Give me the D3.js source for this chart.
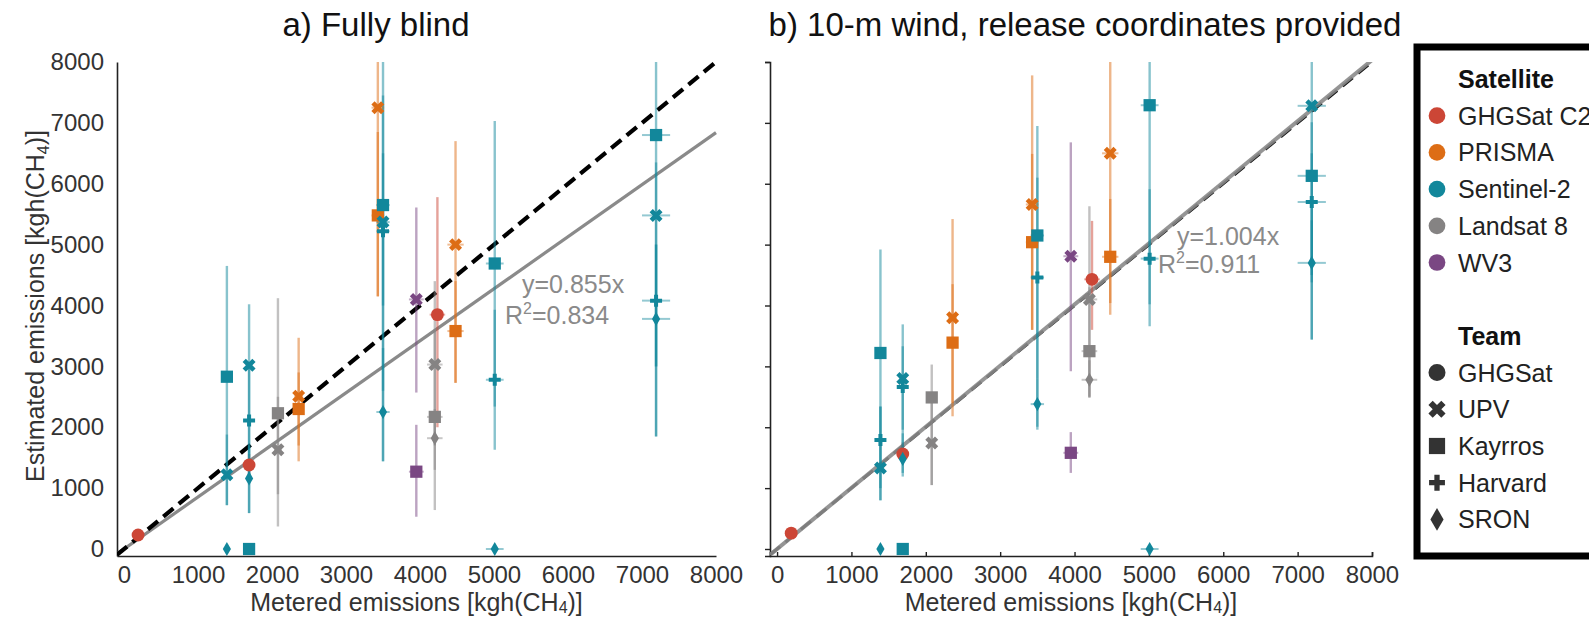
<!DOCTYPE html>
<html><head><meta charset="utf-8">
<script src="https://cdn.jsdelivr.net/npm/d3@7"></script>
<style>
body{margin:0;background:#fff;}
svg{display:block;font-family:"Liberation Sans",Arial,Helvetica,sans-serif;}
</style>
</head><body>
<svg id="chart" width="1589" height="617"></svg>
<script>
// ---------------- data ----------------
const satellites = ["GHGSat C2", "PRISMA", "Sentinel-2", "Landsat 8", "WV3"];
const satColors  = ["#cc4636", "#dd6d15", "#12879b", "#858383", "#7a4783"];
const teams      = ["GHGSat", "UPV", "Kayrros", "Harvard", "SRON"];
const axisTicks  = [0, 1000, 2000, 3000, 4000, 5000, 6000, 7000, 8000];
const panelTitles = ["a) Fully blind", "b) 10-m wind, release coordinates provided"];
const fitSlopes  = [0.855, 1.004];
const fitR2      = ["0.834", "0.911"];
// metered release rates and their uncertainty (kgh)
const releases   = [190, 1390, 1690, 2080, 2360, 3430, 3500, 3950, 4200, 4235, 4480, 5010, 7190];
const releaseErr = [10, 35, 40, 50, 60, 85, 90, 100, 105, 105, 110, 120, 190];
// rows: [satellite, team, metered, estimated, lower, upper]
const panelA = [
  ["GHGSat C2", "GHGSat", 190, 230, null, null],
  ["GHGSat C2", "GHGSat", 1690, 1380, 1200, 1560],
  ["GHGSat C2", "GHGSat", 4235, 3850, 2000, 5780],
  ["PRISMA", "UPV", 2360, 2510, 1440, 3470],
  ["PRISMA", "Kayrros", 2360, 2300, 1700, 2900],
  ["PRISMA", "UPV", 3430, 7250, 4150, 8300],
  ["PRISMA", "Kayrros", 3430, 5480, 4150, 6850],
  ["PRISMA", "UPV", 4480, 5000, 2730, 6700],
  ["PRISMA", "Kayrros", 4480, 3580, 2730, 4400],
  ["Sentinel-2", "Kayrros", 1390, 2830, 720, 4650],
  ["Sentinel-2", "UPV", 1390, 1220, 720, 1880],
  ["Sentinel-2", "SRON", 1390, 0, null, null],
  ["Sentinel-2", "UPV", 1690, 3020, 1200, 4020],
  ["Sentinel-2", "Harvard", 1690, 2110, 590, 3000],
  ["Sentinel-2", "SRON", 1690, 1160, 590, 1700],
  ["Sentinel-2", "Kayrros", 1690, 0, null, null],
  ["Sentinel-2", "Kayrros", 3500, 5650, 1440, 8300],
  ["Sentinel-2", "UPV", 3500, 5370, 2600, 7450],
  ["Sentinel-2", "Harvard", 3500, 5220, 4000, 6500],
  ["Sentinel-2", "SRON", 3500, 2250, 1440, 3300],
  ["Sentinel-2", "Kayrros", 5010, 4690, 1630, 7030],
  ["Sentinel-2", "Harvard", 5010, 2780, 2340, 3930],
  ["Sentinel-2", "SRON", 5010, 0, null, null],
  ["Sentinel-2", "Kayrros", 7190, 6800, 1850, 8300],
  ["Sentinel-2", "UPV", 7190, 5480, 3000, 6350],
  ["Sentinel-2", "Harvard", 7190, 4080, 3000, 5000],
  ["Sentinel-2", "SRON", 7190, 3780, 1850, 5000],
  ["Landsat 8", "Kayrros", 2080, 2230, 370, 4120],
  ["Landsat 8", "UPV", 2080, 1630, 900, 2500],
  ["Landsat 8", "UPV", 4200, 3030, 1700, 4400],
  ["Landsat 8", "Kayrros", 4200, 2170, 640, 3600],
  ["Landsat 8", "SRON", 4200, 1820, 1300, 2300],
  ["WV3", "UPV", 3950, 4100, 2570, 5610],
  ["WV3", "Kayrros", 3950, 1270, 530, 2040]
];
const panelB = [
  ["GHGSat C2", "GHGSat", 190, 260, null, null],
  ["GHGSat C2", "GHGSat", 1690, 1560, 1400, 1750],
  ["GHGSat C2", "GHGSat", 4235, 4430, 3600, 5390],
  ["PRISMA", "UPV", 2360, 3800, 2180, 5420],
  ["PRISMA", "Kayrros", 2360, 3390, 2400, 4350],
  ["PRISMA", "UPV", 3430, 5660, 3600, 7780],
  ["PRISMA", "Kayrros", 3430, 5040, 3600, 6490],
  ["PRISMA", "UPV", 4480, 6500, 3850, 8300],
  ["PRISMA", "Kayrros", 4480, 4800, 4040, 5750],
  ["Sentinel-2", "Kayrros", 1390, 3220, 800, 4920],
  ["Sentinel-2", "Harvard", 1390, 1790, 1000, 2340],
  ["Sentinel-2", "UPV", 1390, 1330, 800, 2340],
  ["Sentinel-2", "SRON", 1390, 0, null, null],
  ["Sentinel-2", "UPV", 1690, 2800, 1190, 3690],
  ["Sentinel-2", "Harvard", 1690, 2660, 1960, 3330],
  ["Sentinel-2", "SRON", 1690, 1480, 1250, 1900],
  ["Sentinel-2", "Kayrros", 1690, 0, null, null],
  ["Sentinel-2", "Kayrros", 3500, 5150, 2010, 6950],
  ["Sentinel-2", "Harvard", 3500, 4460, 2800, 6100],
  ["Sentinel-2", "SRON", 3500, 2380, 1960, 2800],
  ["Sentinel-2", "Kayrros", 5010, 7290, 3660, 8300],
  ["Sentinel-2", "Harvard", 5010, 4770, 4020, 5910],
  ["Sentinel-2", "SRON", 5010, 0, null, null],
  ["Sentinel-2", "UPV", 7190, 7280, 3440, 8300],
  ["Sentinel-2", "Kayrros", 7190, 6130, 4380, 7010],
  ["Sentinel-2", "Harvard", 7190, 5700, 4500, 6500],
  ["Sentinel-2", "SRON", 7190, 4700, 3440, 5400],
  ["Landsat 8", "Kayrros", 2080, 2490, 1050, 3030],
  ["Landsat 8", "UPV", 2080, 1740, 1050, 2400],
  ["Landsat 8", "UPV", 4200, 4100, 2500, 5630],
  ["Landsat 8", "Kayrros", 4200, 3250, 2500, 4300],
  ["Landsat 8", "SRON", 4200, 2780, 2480, 3100],
  ["WV3", "UPV", 3950, 4810, 2920, 6680],
  ["WV3", "Kayrros", 3950, 1580, 1250, 1920]
];

// ---------------- drawing ----------------
const svg = d3.select("#chart");
svg.append("rect").attr("width", 1589).attr("height", 617).attr("fill", "#fff");

const color = d3.scaleOrdinal().domain(satellites).range(satColors);
const errOf = d3.scaleOrdinal().domain(releases).range(releaseErr);
const FONT = 25, TICKFONT = 24;
const TXT = "#333";

function symbolFor(team, big) {
  const s = big ? 1.75 : 1;
  switch (team) {
    case "GHGSat":  return {type: d3.symbolCircle, size: 130 * s, rot: 0};
    case "UPV":     return {type: d3.symbolCross, size: 105 * s, rot: 45};
    case "Kayrros": return {type: d3.symbolSquare, size: 150 * s, rot: 0};
    case "Harvard": return {type: d3.symbolCross, size: 80 * s, rot: 0};
    default:        return {type: d3.symbolDiamond, size: (big ? 150 : 58), rot: 0};
  }
}

const y = d3.scaleLinear().domain([-115, 8000]).range([556, 62]);

function drawPanel(idx, rows, xRange) {
  const x = d3.scaleLinear().domain([-95, 8000]).range(xRange);
  const g = svg.append("g");
  const clipId = "clip" + idx;
  svg.append("clipPath").attr("id", clipId).append("rect")
    .attr("x", xRange[0]).attr("y", y(8000)).attr("width", xRange[1] - xRange[0] + 2)
    .attr("height", y(-115) - y(8000));

  // axes
  const ya = d3.axisLeft(y).tickValues(axisTicks).tickSizeOuter(0);
  if (idx === 0) ya.tickSize(0).tickPadding(13).tickFormat(d3.format("d"));
  else ya.tickSize(5).tickFormat("");
  const yg = g.append("g").attr("transform", `translate(${xRange[0]},0)`).call(ya);
  const xa = d3.axisBottom(x).tickValues(axisTicks).tickSizeOuter(0).tickFormat(d3.format("d"));
  if (idx === 0) xa.tickSize(0).tickPadding(10); else xa.tickSize(-4).tickPadding(10);
  const xg = g.append("g").attr("transform", `translate(0,${y(-115)})`).call(xa);
  [yg, xg].forEach(a => {
    a.attr("font-size", TICKFONT).attr("font-family", null);
    a.selectAll("text").attr("fill", TXT);
    a.select(".domain").attr("stroke", "#222").attr("stroke-width", 1.6);
    a.selectAll(".tick line").attr("stroke", "#222").attr("stroke-width", 1.4);
  });

  const plot = g.append("g").attr("clip-path", `url(#${clipId})`);
  // 1:1 reference (dashed) and fitted line
  const slope = fitSlopes[idx];
  const lineGen = d3.line().x(d => x(d[0])).y(d => y(d[1]));
  const ends = [-95, 8000];
  if (idx === 0) {
    plot.append("path").attr("d", lineGen(ends.map(v => [v, v * slope])))
      .attr("stroke", "#8a8a8a").attr("stroke-width", 3.2).attr("fill", "none");
    plot.append("path").attr("d", lineGen(ends.map(v => [v, v])))
      .attr("stroke", "#000").attr("stroke-width", 4.2).attr("stroke-dasharray", "13,7").attr("fill", "none");
  } else {
    plot.append("path").attr("d", lineGen(ends.map(v => [v, v])))
      .attr("stroke", "#111").attr("stroke-width", 3).attr("stroke-dasharray", "13,7").attr("fill", "none");
    plot.append("path").attr("d", lineGen(ends.map(v => [v, v * slope])))
      .attr("stroke", "#8a8a8a").attr("stroke-opacity", 0.9).attr("stroke-width", 4).attr("fill", "none");
  }

  // error bars
  const bars = rows.filter(r => r[4] !== null);
  plot.selectAll("line.v").data(bars).join("line").attr("class", "v")
    .attr("x1", d => x(d[2])).attr("x2", d => x(d[2]))
    .attr("y1", d => y(d[4])).attr("y2", d => y(d[5]))
    .attr("stroke", d => color(d[0])).attr("stroke-width", 2.4).attr("stroke-opacity", 0.5);
  plot.selectAll("line.h").data(rows).join("line").attr("class", "h")
    .attr("x1", d => x(d[2] - errOf(d[2]))).attr("x2", d => x(d[2] + errOf(d[2])))
    .attr("y1", d => y(d[3])).attr("y2", d => y(d[3]))
    .attr("stroke", d => color(d[0])).attr("stroke-width", 2).attr("stroke-opacity", 0.45);

  // markers
  g.append("g").selectAll("path").data(rows).join("path")
    .attr("d", d => { const s = symbolFor(d[1], false); return d3.symbol(s.type, s.size)(); })
    .attr("transform", d => `translate(${x(d[2])},${y(d[3])}) rotate(${symbolFor(d[1], false).rot})`)
    .attr("fill", d => color(d[0]));

  // fit annotation
  const ann = idx === 0 ? {x1: 522, y1: 293, x2: 505, y2: 324} : {x1: 1177, y1: 245, x2: 1158, y2: 273};
  g.append("text").attr("x", ann.x1).attr("y", ann.y1).attr("font-size", FONT).attr("fill", "#8a8a8a")
    .text(`y=${slope.toFixed(3)}x`);
  const t2 = g.append("text").attr("x", ann.x2).attr("y", ann.y2).attr("font-size", FONT).attr("fill", "#8a8a8a");
  t2.append("tspan").text("R");
  t2.append("tspan").attr("font-size", 16).attr("dy", -10).text("2");
  t2.append("tspan").attr("dy", 10).text("=" + fitR2[idx]);

  // titles and x label
  const titleX = idx === 0 ? 376 : 1085;
  g.append("text").attr("x", titleX).attr("y", 36).attr("text-anchor", "middle")
    .attr("font-size", 33).attr("fill", "#111").text(panelTitles[idx]);
  const xl = g.append("text").attr("x", (xRange[0] + xRange[1]) / 2).attr("y", 611)
    .attr("text-anchor", "middle").attr("font-size", FONT).attr("fill", TXT);
  xl.append("tspan").text("Metered emissions [kgh(CH");
  xl.append("tspan").attr("font-size", 16).attr("dy", 2).text("4");
  xl.append("tspan").attr("dy", -2).text(")]");
}

drawPanel(0, panelA, [117, 716]);
drawPanel(1, panelB, [770, 1372]);

// y label
const yl = svg.append("text").attr("transform", "translate(44,306) rotate(-90)")
  .attr("text-anchor", "middle").attr("font-size", FONT).attr("fill", TXT);
yl.append("tspan").text("Estimated emissions [kgh(CH");
yl.append("tspan").attr("font-size", 16).attr("dy", 5).text("4");
yl.append("tspan").attr("dy", -5).text(")]");

// legend
const lg = svg.append("g");
lg.append("rect").attr("x", 1417).attr("y", 47).attr("width", 260).attr("height", 509)
  .attr("fill", "#fff").attr("stroke", "#000").attr("stroke-width", 7);
const rowH = 36.7, base0 = 88, mx = 1437, tx = 1458;
lg.append("text").attr("x", tx).attr("y", base0).attr("font-size", FONT).attr("font-weight", "bold")
  .attr("fill", "#111").text("Satellite");
satellites.forEach((s, i) => {
  const by = base0 + rowH * (i + 1);
  lg.append("path").attr("d", d3.symbol(d3.symbolCircle, 220)())
    .attr("transform", `translate(${mx},${by - 9})`).attr("fill", color(s));
  lg.append("text").attr("x", tx).attr("y", by).attr("font-size", FONT).attr("fill", "#222").text(s);
});
const tBase = base0 + rowH * 7;
lg.append("text").attr("x", tx).attr("y", tBase).attr("font-size", FONT).attr("font-weight", "bold")
  .attr("fill", "#111").text("Team");
teams.forEach((t, i) => {
  const by = tBase + rowH * (i + 1);
  const s = symbolFor(t, true);
  lg.append("path").attr("d", d3.symbol(s.type, s.size)())
    .attr("transform", `translate(${mx},${by - 9}) rotate(${s.rot})`).attr("fill", "#333");
  lg.append("text").attr("x", tx).attr("y", by).attr("font-size", FONT).attr("font-weight", null).attr("fill", "#222").text(t);
});
</script>
</body></html>
